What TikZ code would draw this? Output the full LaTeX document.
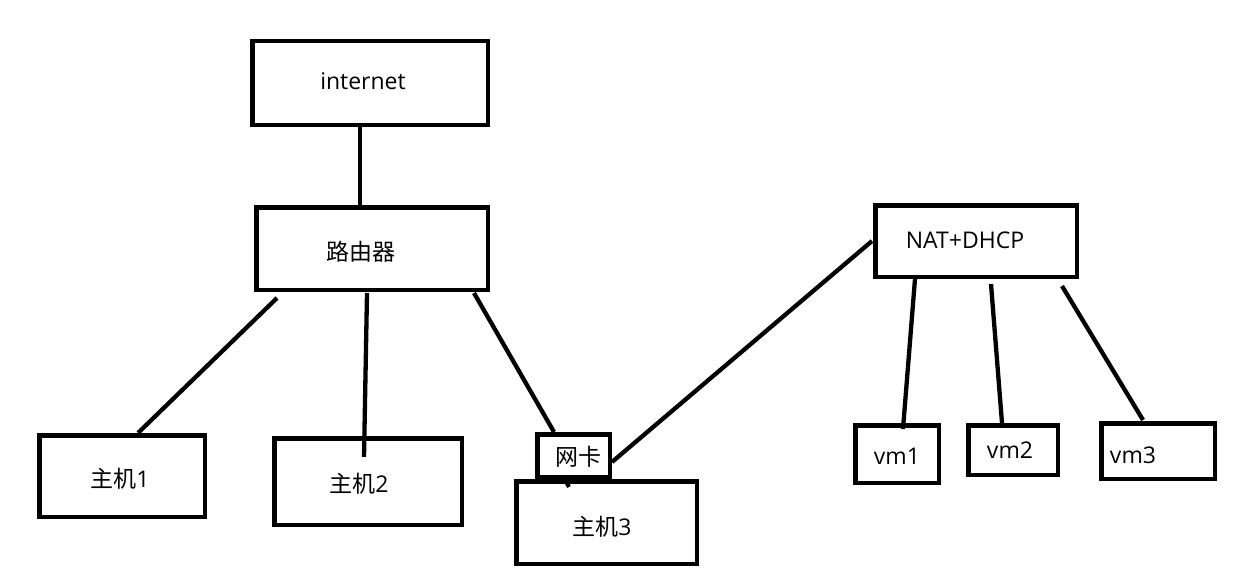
\documentclass[tikz,border=0pt]{standalone}
\usepackage{fontspec}
\setmainfont{Open Sans}
\newfontfamily\cjk{Noto Sans CJK SC}
\begin{document}
\begin{tikzpicture}[x=1pt,y=-1pt,
  box/.style={draw=black,line width=4.5pt,inner sep=0pt,fill=none},
  lbl/.style={anchor=base,inner sep=0pt,font=\fontsize{23pt}{26pt}\selectfont},
  link/.style={draw=black,line width=4.3pt}]
\useasboundingbox[fill=white] (0,0) rectangle (1245,586);
% boxes
\node[box,minimum width=235.5pt,minimum height=83.5pt] (internet) at (370,83) {};
\node[box,minimum width=231.5pt,minimum height=82.5pt] (router) at (372,248.5) {};
\node[box,minimum width=165.5pt,minimum height=81.5pt] (h1) at (122,476) {};
\node[box,minimum width=187.5pt,minimum height=86.5pt] (h2) at (368,481.5) {};
\node[box,minimum width=180.5pt,minimum height=82.5pt] (h3) at (606.5,522.5) {};
\node[box,minimum width=72.5pt,minimum height=42.5pt] (nic) at (573.5,455.5) {};
\node[box,minimum width=201.5pt,minimum height=71.5pt] (nat) at (976,241) {};
\node[box,minimum width=83.5pt,minimum height=57.5pt] (vm1) at (897,454) {};
\node[box,minimum width=89.5pt,minimum height=49.5pt] (vm2) at (1013,450) {};
\node[box,minimum width=113.5pt,minimum height=55.5pt] (vm3) at (1158,451) {};
% labels
\node[lbl] (tinternet) at (363,89) {internet};
\node[lbl] (trouter) at (361,260) {\cjk 路由器};
\node[lbl] (th1) at (120,487) {{\cjk 主机}1};
\node[lbl] (th2) at (359,492) {{\cjk 主机}2};
\node[lbl] (th3) at (602,535) {{\cjk 主机}3};
\node[lbl] (tnic) at (578,465) {\cjk 网卡};
\node[lbl] (tnat) at (965,248) {NAT+DHCP};
\node[lbl] (tvm1) at (897,464) {vm1};
\node[lbl] (tvm2) at (1010,458) {vm2};
\node[lbl] (tvm3) at (1133,463) {vm3};
% connector end points
\coordinate (a1) at (360,127); \coordinate (a2) at (360,205);
\coordinate (b1) at (277,298); \coordinate (b2) at (138,433);
\coordinate (c1) at (367,293); \coordinate (c2) at (364,457);
\coordinate (d1) at (474,293); \coordinate (d2) at (554,432);
\coordinate (e1) at (612,462); \coordinate (e2) at (872,241);
\coordinate (f1) at (915,279); \coordinate (f2) at (903,429);
\coordinate (g1) at (991,284); \coordinate (g2) at (1002,423);
\coordinate (k1) at (1062,286); \coordinate (k2) at (1143,420);
\coordinate (m1) at (563,476); \coordinate (m2) at (569,487);
% connectors
\draw[link] (a1) -- (a2);
\draw[link] (b1) -- (b2);
\draw[link] (c1) -- (c2);
\draw[link] (d1) -- (d2);
\draw[link] (e1) -- (e2);
\draw[link] (f1) -- (f2);
\draw[link] (g1) -- (g2);
\draw[link] (k1) -- (k2);
\draw[draw=black,line width=4pt] (m1) -- (m2);
\end{tikzpicture}
\end{document}
